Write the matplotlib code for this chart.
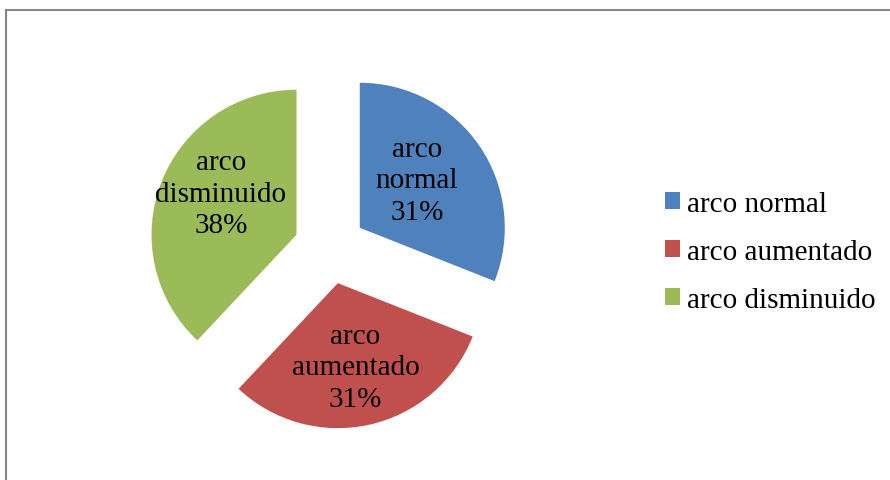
import matplotlib
matplotlib.use("Agg")
import matplotlib.pyplot as plt
from matplotlib.patches import Rectangle

categories = ["arco normal", "arco aumentado", "arco disminuido"]
slice_labels = ["arco\nnormal", "arco\naumentado", "arco\ndisminuido"]
values = [31, 31, 38]
colors = ["#4F81BD", "#C0504D", "#9BBB59"]

plt.rcParams['font.family'] = ['Liberation Serif', 'DejaVu Serif']

W, H = 890, 481
fig = plt.figure(figsize=(W / 100, H / 100), dpi=100)
ax = fig.add_axes([0, 0, 1, 1])

radius = 145
center = (330, H - 249)
wedges, texts, autotexts = ax.pie(
    values, colors=colors, startangle=90, counterclock=False,
    explode=[36] * len(values), radius=radius, center=center,
    autopct=lambda p: f"{p:.0f}%", pctdistance=0.56,
    wedgeprops=dict(linewidth=0), frame=False,
    textprops=dict(fontsize=21, color="black"))

offsets = [(-10, 2), (0, -5), (0, 11)]
for t, lab, (dx, dy) in zip(autotexts, slice_labels, offsets):
    x, y = t.get_position()
    t.set_text(f"{lab}\n{t.get_text()}")
    t.set_position((x + dx, y + dy))
    t.set_ha("center")
    t.set_va("center")
    t.set_multialignment("center")
    t.set_linespacing(1.27)

ax.set_xlim(0, W)
ax.set_ylim(0, H)
ax.set_aspect("auto")
ax.axis("off")

leg = ax.legend(wedges, categories, loc="center left",
                bbox_to_anchor=(665 / W, 1 - 253 / H), bbox_transform=fig.transFigure,
                frameon=False, fontsize=21, borderpad=0, borderaxespad=0,
                handlelength=0.52, handleheight=0.52, handletextpad=0.25,
                labelspacing=0.76)

fig.patches.append(Rectangle((5.5 / W, -0.1), 2.0, (H - 10.5) / H + 0.1,
                             transform=fig.transFigure, fill=False,
                             edgecolor="#878787", linewidth=1.5))

fig.savefig("out.png", dpi=100)
